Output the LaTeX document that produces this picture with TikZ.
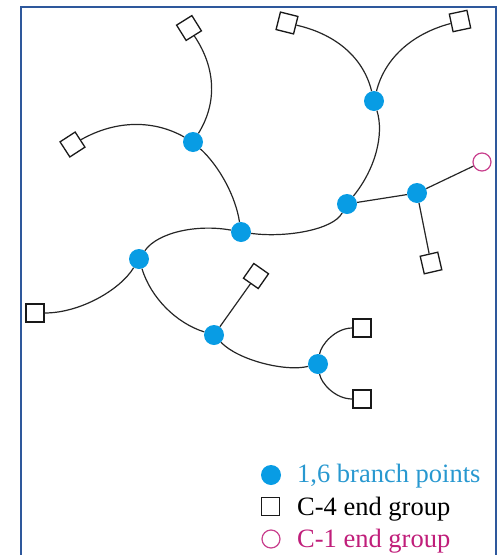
\documentclass[tikz,border=0pt]{standalone}
\usepackage{fontspec}
\setmainfont{Liberation Serif}
\definecolor{framec}{RGB}{46,88,156}
\definecolor{dotc}{RGB}{8,156,228}
\definecolor{legblue}{RGB}{40,152,208}
\definecolor{mag}{RGB}{192,30,122}
\begin{document}
\begin{tikzpicture}[x=1pt,y=-1pt,
  branch/.style={circle,fill=dotc,inner sep=0pt,minimum size=20pt},
  endsq/.style={draw=black!90,line width=1.3pt,fill=white,inner sep=0pt,minimum size=18pt},
  endcone/.style={circle,draw=mag!85,line width=1.2pt,fill=white,inner sep=0pt,minimum size=18pt},
  bond/.style={draw=black!85,line width=1.2pt},
  legtext/.style={anchor=base west,inner sep=0pt,font=\fontsize{26.5}{31}\selectfont}]
\useasboundingbox (0,0) rectangle (502,555);
\draw[framec,line width=2.6pt] (21,555) -- (21,7) -- (496,7) -- (496,555);

% branch points
\node[branch] (B1) at (193,142) {};
\node[branch] (B2) at (241,232) {};
\node[branch] (B3) at (139,259) {};
\node[branch] (B4) at (374,101) {};
\node[branch] (B5) at (347,204) {};
\node[branch] (B6) at (417,193) {};
\node[branch] (B7) at (214,335) {};
\node[branch] (B8) at (318,364) {};

% C-4 end groups
\node[endsq,rotate=32] (S1) at (189,28) {};
\node[endsq,rotate=33] (S2) at (72.5,144.5) {};
\node[endsq,rotate=-14] (S3) at (287,23) {};
\node[endsq,rotate=12] (S4) at (460,21) {};
\node[endsq,rotate=13] (S5) at (431,263) {};
\node[endsq,rotate=-35] (S6) at (256,276) {};
\node[endsq] (S7) at (35,313) {};
\node[endsq] (S8) at (362,328) {};
\node[endsq] (S9) at (362,399) {};

% C-1 end group
\node[endcone] (C) at (482,162) {};

% connectors
\draw[bond] (S1) .. controls (217,69.7) and (216.3,104.7) .. (B1);
\draw[bond] (S2) .. controls (117,119.3) and (154.7,120.3) .. (B1);
\draw[bond] (B1) .. controls (219.7,166.7) and (235.7,196.7) .. (B2);
\draw[bond] (B3) .. controls (158,232) and (198,224) .. (B2);
\draw[bond] (B2) .. controls (285,238) and (333,230) .. (B5);
\draw[bond] (B5) .. controls (375.3,169) and (384.3,134.7) .. (B4);
\draw[bond] (B4) .. controls (364,59.7) and (338.3,34.7) .. (S3);
\draw[bond] (B4) .. controls (384.3,60) and (410,34.3) .. (S4);
\draw[bond] (B3) .. controls (120,290) and (80,313) .. (S7);
\draw[bond] (B3) .. controls (150.8,297.5) and (175.8,322.9) .. (B7);
\draw[bond] (B7) -- (S6);
\draw[bond] (B7) .. controls (238,360) and (285,372) .. (B8);
\draw[bond] (B8) .. controls (321,345) and (335,328) .. (S8);
\draw[bond] (B8) .. controls (321,383) and (335,399) .. (S9);
\draw[bond] (B5) -- (B6);
\draw[bond] (B6) -- (C);
\draw[bond] (B6) -- (S5);

% legend
\node[branch] (L1) at (271,475) {};
\node[endsq] (L2) at (270.5,506.5) {};
\node[endcone] (L3) at (271,539) {};
\node[legtext,text=legblue] (T1) at (297,482) {1,6 branch points};
\node[legtext,text=black] (T2) at (297,515) {C-4 end group};
\node[legtext,text=mag] (T3) at (297,547) {C-1 end group};
\end{tikzpicture}
\end{document}
